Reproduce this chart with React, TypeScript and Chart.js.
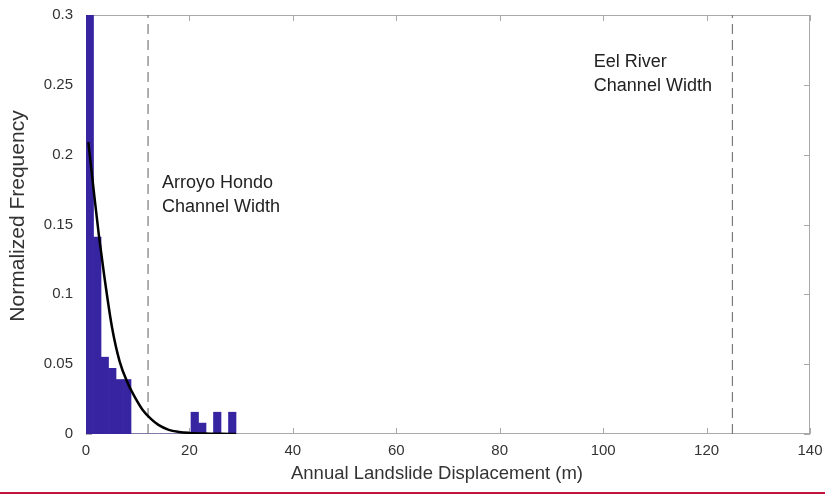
import React, { useEffect, useRef } from "react";
import { Chart, registerables } from "chart.js";

Chart.register(...registerables);

// Histogram bin centres (m) and normalized frequencies
const binCenters = [0.73, 2.18, 3.63, 5.08, 6.53, 7.98, 9.43, 10.88, 12.33, 13.78, 15.23, 16.68, 18.13, 19.58, 21.03, 22.48, 23.93, 25.38, 26.83, 28.28];
const binFreq = [0.3, 0.141, 0.055, 0.047, 0.039, 0.039, 0, 0, 0, 0, 0, 0, 0, 0, 0.0156, 0.0078, 0, 0.0156, 0, 0.0156];

// Fitted curve
const fitX = [0.45, 1.5, 2.5, 3.5, 5, 6.5, 8, 9.5, 11, 12.5, 14, 16, 18, 20, 23, 26, 29];
const fitY = [0.209, 0.174, 0.142, 0.114, 0.077, 0.052, 0.037, 0.026, 0.017, 0.011, 0.0065, 0.003, 0.0015, 0.0008, 0.0003, 0.0001, 0];

// Channel width reference lines (m)
const channelWidths = [12, 125];
const channelLabels = [
  ["Arroyo Hondo", "Channel Width"],
  ["Eel River", "Channel Width"],
];
const labelAnchors = [
  { x: 14.7, y: 0.18 },
  { x: 98.2, y: 0.266 },
];

const xTicks = [0, 20, 40, 60, 80, 100, 120, 140];
const yTicks = [0, 0.05, 0.1, 0.15, 0.2, 0.25, 0.3];
const xTitle = "Annual Landslide Displacement (m)";
const yTitle = "Normalized Frequency";

const FONT = "'Liberation Sans', Arial, Helvetica, sans-serif";

const framePlugin = {
  id: "frame",
  beforeDatasetsDraw(chart: any) {
    const { ctx, chartArea: a, scales } = chart;
    ctx.save();
    ctx.strokeStyle = "#a9a9a9";
    ctx.lineWidth = 1;
    ctx.strokeRect(a.left + 0.5, a.top + 0.5, a.right - a.left - 1, a.bottom - a.top - 1);
    ctx.beginPath();
    for (const v of xTicks) {
      const px = Math.round(scales.x.getPixelForValue(v)) + 0.5;
      ctx.moveTo(px, a.bottom);
      ctx.lineTo(px, a.bottom - 6);
      ctx.moveTo(px, a.top);
      ctx.lineTo(px, a.top + 6);
    }
    for (const v of yTicks) {
      const py = Math.round(scales.y.getPixelForValue(v)) + 0.5;
      ctx.moveTo(a.left, py);
      ctx.lineTo(a.left + 6, py);
      ctx.moveTo(a.right, py);
      ctx.lineTo(a.right - 6, py);
    }
    ctx.stroke();
    ctx.restore();
  },
  afterDraw(chart: any) {
    const { ctx, scales } = chart;
    ctx.save();
    ctx.fillStyle = "#222";
    ctx.font = `18px ${FONT}`;
    ctx.textBaseline = "middle";
    ctx.textAlign = "left";
    channelLabels.forEach((lines, i) => {
      const px = scales.x.getPixelForValue(labelAnchors[i].x);
      const py = scales.y.getPixelForValue(labelAnchors[i].y);
      lines.forEach((t, j) => ctx.fillText(t, px, py + j * 24));
    });
    // axis titles
    ctx.fillStyle = "#333";
    ctx.textAlign = "center";
    ctx.font = `18.5px ${FONT}`;
    ctx.fillText(xTitle, 437, 474);
    ctx.save();
    ctx.translate(18, 216);
    ctx.rotate(-Math.PI / 2);
    ctx.font = `21px ${FONT}`;
    ctx.fillText(yTitle, 0, 0);
    ctx.restore();
    // red rule at the bottom of the figure
    ctx.fillStyle = "#c3123c";
    ctx.fillRect(0, 492, chart.width, 2);
    ctx.restore();
  },
};

export default function App() {
  const ref = useRef<HTMLCanvasElement>(null);
  useEffect(() => {
    if (!ref.current) return;
    const datasets: any[] = [
      {
        type: "line",
        label: "fit",
        data: fitX.map((x, i) => ({ x, y: fitY[i] })),
        borderColor: "#000",
        borderWidth: 2.5,
        pointRadius: 0,
        cubicInterpolationMode: "monotone",
        fill: false,
        order: 0,
      },
      ...channelWidths.map((w) => ({
        type: "line",
        label: "width " + w,
        data: [
          { x: w, y: 0 },
          { x: w, y: 0.3 },
        ],
        borderColor: "#7a7a7a",
        borderWidth: 1.2,
        borderDash: [10, 6],
        pointRadius: 0,
        fill: false,
        order: 1,
      })),
      {
        type: "bar",
        label: "hist",
        data: binCenters.map((x, i) => ({ x, y: binFreq[i] })),
        backgroundColor: "rgb(54,36,160)",
        borderWidth: 0,
        barPercentage: 1,
        categoryPercentage: 1,
        order: 2,
      },
    ];
    const chart = new Chart(ref.current, {
      type: "bar",
      data: { datasets },
      options: {
        animation: false,
        responsive: false,
        devicePixelRatio: 1,
        layout: { padding: { left: 0, right: 15, top: 15, bottom: 0 } },
        plugins: { legend: { display: false }, tooltip: { enabled: false } },
        scales: {
          x: {
            type: "linear",
            min: 0,
            max: 140,
            offset: false,
            grid: { display: false, drawTicks: false },
            border: { display: false },
            afterFit: (s: any) => {
              s.height = 61;
              s.paddingLeft = 0;
              s.paddingRight = 0;
            },
            afterBuildTicks: (s: any) => {
              s.ticks = xTicks.map((v) => ({ value: v }));
            },
            ticks: {
              padding: 8,
              color: "#333",
              font: { family: FONT, size: 15 },
              maxRotation: 0,
            },
            title: { display: false },
          },
          y: {
            type: "linear",
            min: 0,
            max: 0.3,
            grid: { display: false, drawTicks: false },
            border: { display: false },
            afterFit: (s: any) => {
              s.width = 86;
              s.paddingTop = 0;
              s.paddingBottom = 0;
            },
            afterBuildTicks: (s: any) => {
              s.ticks = yTicks.map((v) => ({ value: v }));
            },
            ticks: {
              padding: 13,
              color: "#333",
              font: { family: FONT, size: 15 },
              callback: (v: any) => String(Number(Number(v).toFixed(2))),
            },
            title: { display: false },
          },
        },
      },
      plugins: [framePlugin],
    });
    return () => chart.destroy();
  }, []);
  return (
    <div style={{ position: "fixed", left: 0, top: 0, width: 825, height: 495, background: "#fff" }}>
      <canvas ref={ref} width={825} height={495} style={{ display: "block" }} />
    </div>
  );
}
